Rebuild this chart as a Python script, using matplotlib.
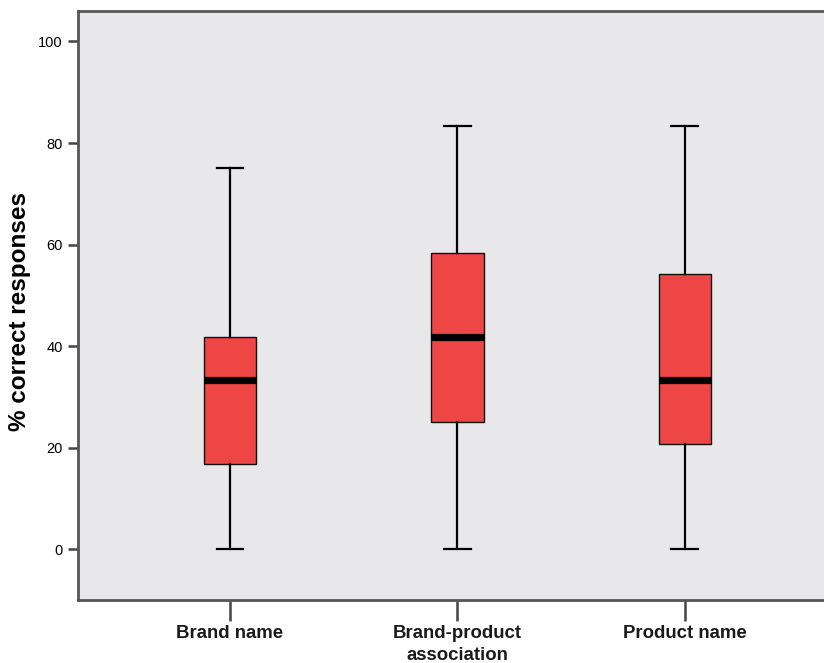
import matplotlib
matplotlib.use("Agg")
import matplotlib.pyplot as plt

categories = ["Brand name", "Brand-product\nassociation", "Product name"]
whislo = [0.0, 0.0, 0.0]
q1 = [16.7, 25.0, 20.8]
med = [33.3, 41.7, 33.3]
q3 = [41.7, 58.3, 54.2]
whishi = [75.0, 83.3, 83.3]
yticks = [0, 20, 40, 60, 80, 100]

plt.rcParams['font.family'] = ['Liberation Sans', 'DejaVu Sans']

fig = plt.figure(figsize=(8.24, 6.63), dpi=100)
ax = fig.add_axes([78/824, 63/663, 1 - 78/824 + 0.02, (600-11)/663])
ax.set_facecolor('#e8e8ea')

stats = []
for i, c in enumerate(categories):
    stats.append(dict(label=c, whislo=whislo[i], q1=q1[i], med=med[i], q3=q3[i], whishi=whishi[i], fliers=[]))

ax.bxp(stats, positions=range(len(categories)), widths=0.232, patch_artist=True,
       showfliers=False,
       boxprops=dict(facecolor='#ee4545', edgecolor='#111111', linewidth=1.0),
       medianprops=dict(color='black', linewidth=5.2, solid_capstyle='butt'),
       whiskerprops=dict(color='black', linewidth=1.6),
       capprops=dict(color='black', linewidth=1.6),
       capwidths=0.118)

ax.set_xlim(-0.668, 2.684)
ax.set_ylim(-10, 106)
ax.set_yticks(yticks)
ax.set_yticklabels([str(t) for t in yticks], fontsize=10.5)
ax.set_xticks(range(len(categories)))
ax.set_xticklabels(categories, fontsize=13.4, fontweight='bold', color='#1a1a1a', linespacing=1.4)
ax.tick_params(axis='y', length=7, width=1.8, color='#444444', pad=4)
ax.tick_params(axis='x', length=15, width=1.8, color='#444444', pad=3)
ax.set_ylabel('% correct responses', fontsize=17.5, fontweight='bold')
ax.yaxis.set_label_coords(-0.061, 0.49)

for s in ['left', 'bottom', 'top']:
    ax.spines[s].set_color('#555555')
    ax.spines[s].set_linewidth(2.0)
ax.spines['right'].set_visible(False)

fig.savefig('out.png', dpi=100)
